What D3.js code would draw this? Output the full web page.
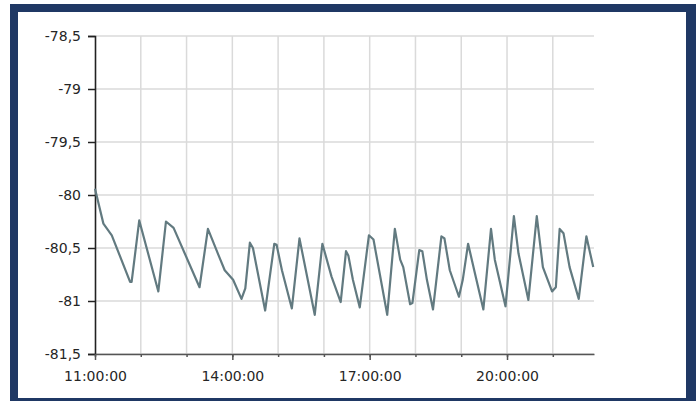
<!DOCTYPE html>
<html lang="en">
<head>
    <meta charset="UTF-8">
    <title>Signal level</title>
    <script src="https://d3js.org/d3.v7.min.js"></script>
    <style>
        body { margin: 0; background: #fff; }
        text { font-family: "DejaVu Sans", Verdana, sans-serif; }
    </style>
</head>
<body>
    <div id="chart"></div>
    <script>

        // readings (time of day, value)
        var times = ["11:00", "11:11", "11:22", "11:46", "11:48", "11:58", "12:23", "12:33", "12:43", "13:17",
            "13:28", "13:42", "13:50", "14:01", "14:12", "14:17", "14:23", "14:27", "14:43", "14:55",
            "14:58", "15:05", "15:18", "15:28", "15:48", "15:58", "16:10", "16:22", "16:29", "16:32",
            "16:38", "16:47", "16:59", "17:05", "17:23", "17:33", "17:40", "17:44", "17:53", "17:56",
            "18:05", "18:09", "18:15", "18:23", "18:34", "18:38", "18:45", "18:57", "19:02", "19:09",
            "19:18", "19:29", "19:39", "19:44", "19:58", "20:09", "20:15", "20:28", "20:39", "20:47",
            "20:59", "21:04", "21:09", "21:14", "21:22", "21:34", "21:44", "21:53"];
        var values = [-79.94, -80.27, -80.38, -80.82, -80.82, -80.24, -80.91, -80.25, -80.31, -80.87,
            -80.32, -80.57, -80.71, -80.80, -80.98, -80.88, -80.45, -80.50, -81.09, -80.46,
            -80.47, -80.71, -81.07, -80.41, -81.13, -80.46, -80.77, -81.01, -80.53, -80.57,
            -80.80, -81.06, -80.38, -80.42, -81.13, -80.32, -80.61, -80.68, -81.03, -81.02,
            -80.52, -80.53, -80.80, -81.08, -80.39, -80.41, -80.71, -80.96, -80.80, -80.46,
            -80.74, -81.08, -80.32, -80.61, -81.05, -80.20, -80.55, -80.99, -80.20, -80.68,
            -80.91, -80.87, -80.32, -80.36, -80.68, -80.98, -80.39, -80.68];

        // axis ticks
        var yTicks = [-78.5, -79, -79.5, -80, -80.5, -81, -81.5];
        var xHours = ["11:00", "12:00", "13:00", "14:00", "15:00", "16:00", "17:00", "18:00", "19:00", "20:00", "21:00"];
        var xLabels = ["11:00", "14:00", "17:00", "20:00"];
        var xStart = "11:00", xEnd = "21:54";

        var W = 696, H = 401;
        var margin = { top: 36, right: 102, bottom: 47, left: 95 },
            width = W - margin.left - margin.right,
            height = H - margin.top - margin.bottom;

        var parse = d3.timeParse("%H:%M");
        var data = times.map(function (t, i) { return { t: parse(t), v: values[i] }; });

        var svg = d3.select("#chart").append("svg")
            .attr("width", W)
            .attr("height", H);

        // navy frame
        svg.append("rect").attr("x", 10).attr("y", 4).attr("width", W - 10).attr("height", H - 4)
            .attr("fill", "#1f3864");
        svg.append("rect").attr("x", 18).attr("y", 12).attr("width", 668).attr("height", 386)
            .attr("fill", "#ffffff");

        var g = svg.append("g")
            .attr("transform", "translate(" + margin.left + "," + margin.top + ")");

        var x = d3.scaleTime()
            .domain([parse(xStart), parse(xEnd)])
            .range([0, width]);

        var y = d3.scaleLinear()
            .domain([-81.5, -78.5])
            .range([height, 0]);

        // grid
        g.append("g").selectAll("line.h")
            .data(yTicks)
            .enter().append("line")
            .attr("x1", 0).attr("x2", width)
            .attr("y1", function (d) { return y(d); })
            .attr("y2", function (d) { return y(d); })
            .attr("stroke", "#dadada")
            .attr("stroke-width", 1.5);

        g.append("g").selectAll("line.v")
            .data(xHours.slice(1))
            .enter().append("line")
            .attr("x1", function (d) { return x(parse(d)); })
            .attr("x2", function (d) { return x(parse(d)); })
            .attr("y1", 0).attr("y2", height)
            .attr("stroke", "#dadada")
            .attr("stroke-width", 1.5);

        // y axis
        var yAxis = g.append("g")
            .call(d3.axisLeft(y)
                .tickValues(yTicks)
                .tickSize(7)
                .tickPadding(7)
                .tickFormat(function (d) { return String(d).replace(".", ","); }));
        yAxis.select(".domain").attr("stroke", "#222").attr("stroke-width", 1.6);
        yAxis.selectAll(".tick line").attr("stroke", "#222").attr("stroke-width", 1.5);
        yAxis.selectAll("text")
            .attr("fill", "#262626")
            .style("font-size", "14px");

        // x axis: minor ticks every hour, labels every 3 hours
        var xAxis = g.append("g")
            .attr("transform", "translate(0," + height + ")")
            .call(d3.axisBottom(x)
                .tickValues(xHours.map(parse))
                .tickSizeInner(3)
                .tickSizeOuter(0)
                .tickFormat(""));
        xAxis.select(".domain").attr("stroke", "#555").attr("stroke-width", 1.5);
        xAxis.selectAll(".tick line").attr("stroke", "#555").attr("stroke-width", 1.5);

        var xMajor = g.append("g")
            .attr("transform", "translate(0," + height + ")")
            .call(d3.axisBottom(x)
                .tickValues(xLabels.map(parse))
                .tickSizeInner(6)
                .tickSizeOuter(0)
                .tickPadding(11)
                .tickFormat(d3.timeFormat("%H:%M:%S")));
        xMajor.select(".domain").remove();
        xMajor.selectAll(".tick line").attr("stroke", "#555").attr("stroke-width", 1.5);
        xMajor.selectAll("text")
            .attr("fill", "#262626")
            .style("font-size", "14px");

        // the series
        var line = d3.line()
            .x(function (d) { return x(d.t); })
            .y(function (d) { return y(d.v); });

        g.append("path")
            .datum(data)
            .attr("fill", "none")
            .attr("stroke", "#627a80")
            .attr("stroke-width", 2.2)
            .attr("stroke-linejoin", "round")
            .attr("d", line);

    </script>
</body>
</html>
